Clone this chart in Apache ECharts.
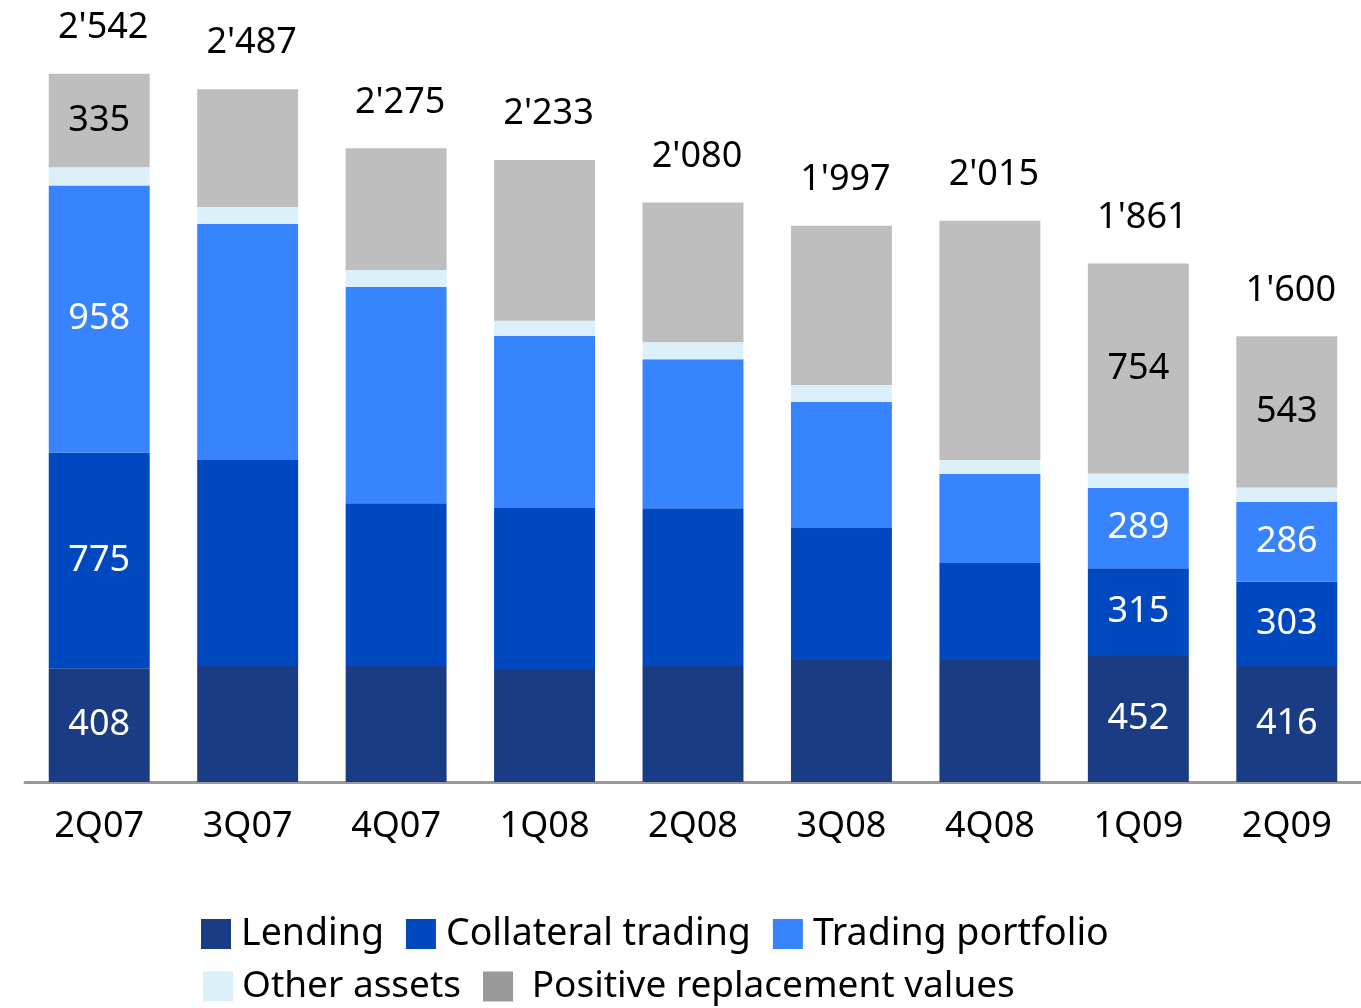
<!DOCTYPE html>
<html>
<head>
<meta charset="utf-8">
<script src="https://cdn.jsdelivr.net/npm/echarts@6/dist/echarts.min.js"></script>
<style>
html, body { margin: 0; padding: 0; background: #fff; }
#main { width: 1361px; height: 1008px; }
</style>
</head>
<body>
<div id="main"></div>
<script>
var quarters = ['2Q07', '3Q07', '4Q07', '1Q08', '2Q08', '3Q08', '4Q08', '1Q09', '2Q09'];
var lending = [408, 416, 416, 406, 416, 438, 438, 452, 416];
var collateral = [775, 740, 585, 578, 567, 474, 348, 315, 303];
var trading = [958, 847, 776, 618, 535, 452, 320, 289, 286];
var otherAssets = [66, 61, 61, 54, 61, 61, 50, 51, 52];
var replacement = [335, 423, 437, 577, 501, 572, 859, 754, 543];
var totals = [2542, 2487, 2275, 2233, 2080, 1997, 2015, 1861, 1600];
var labelledQuarters = ['2Q07', '1Q09', '2Q09'];

var font = 'Noto Sans';

function withSep(v) {
    return String(v).replace(/\B(?=(\d{3})+(?!\d))/g, "'");
}

function segLabel(color) {
    return {
        show: true,
        position: 'inside',
        color: color,
        fontSize: 36,
        fontFamily: font,
        formatter: function (p) {
            return labelledQuarters.indexOf(p.name) >= 0 ? p.value : '';
        }
    };
}

var chart = echarts.init(document.getElementById('main'));

var option = {
    animation: false,
    textStyle: { fontFamily: font },
    grid: {
        left: 25,
        width: 1337,
        top: 2,
        bottom: 226
    },
    legend: [{
        left: 201,
        top: 915,
        padding: 0,
        icon: 'rect',
        itemWidth: 30,
        itemHeight: 30,
        itemGap: 22,
        textStyle: { fontSize: 37.5, color: '#000', padding: [0, 0, 0, 5] },
        data: ['Lending', 'Collateral trading', 'Trading portfolio']
    }, {
        left: 203,
        top: 968,
        padding: 0,
        icon: 'rect',
        itemWidth: 30,
        itemHeight: 30,
        itemGap: 22,
        textStyle: { fontSize: 37, color: '#000', padding: [0, 0, 0, 4] },
        formatter: function (name) {
            return name === 'Positive replacement values' ? ' ' + name : name;
        },
        data: ['Other assets', { name: 'Positive replacement values', itemStyle: { color: '#999999' } }]
    }],
    xAxis: {
        type: 'category',
        data: quarters,
        axisTick: { show: false },
        axisLine: { lineStyle: { color: '#999999', width: 3 } },
        axisLabel: {
            margin: 27,
            fontSize: 36,
            color: '#000',
            fontFamily: font
        }
    },
    yAxis: {
        type: 'value',
        min: 0,
        max: 2800,
        show: false
    },
    series: [{
        name: 'Lending',
        type: 'bar',
        stack: 'assets',
        barWidth: '68%',
        itemStyle: { color: '#1a3c84' },
        label: segLabel('#fff'),
        data: lending
    }, {
        name: 'Collateral trading',
        type: 'bar',
        stack: 'assets',
        itemStyle: { color: '#0048c0' },
        label: segLabel('#fff'),
        data: collateral
    }, {
        name: 'Trading portfolio',
        type: 'bar',
        stack: 'assets',
        itemStyle: { color: '#3884ff' },
        label: segLabel('#fff'),
        data: trading
    }, {
        name: 'Other assets',
        type: 'bar',
        stack: 'assets',
        itemStyle: { color: '#dcf0fa' },
        data: otherAssets
    }, {
        name: 'Positive replacement values',
        type: 'bar',
        stack: 'assets',
        itemStyle: { color: '#bebebe' },
        label: segLabel('#000'),
        data: replacement
    }, {
        name: 'Total',
        type: 'bar',
        stack: 'assets',
        silent: true,
        itemStyle: { color: 'transparent' },
        label: {
            show: true,
            position: 'top',
            distance: 28,
            offset: [4, 0],
            color: '#000',
            fontSize: 36,
            fontFamily: font,
            formatter: function (p) {
                return withSep(totals[p.dataIndex]);
            }
        },
        data: totals.map(function () { return 0; })
    }]
};

chart.setOption(option);
window.addEventListener('resize', function () { chart.resize(); });
</script>
</body>
</html>
